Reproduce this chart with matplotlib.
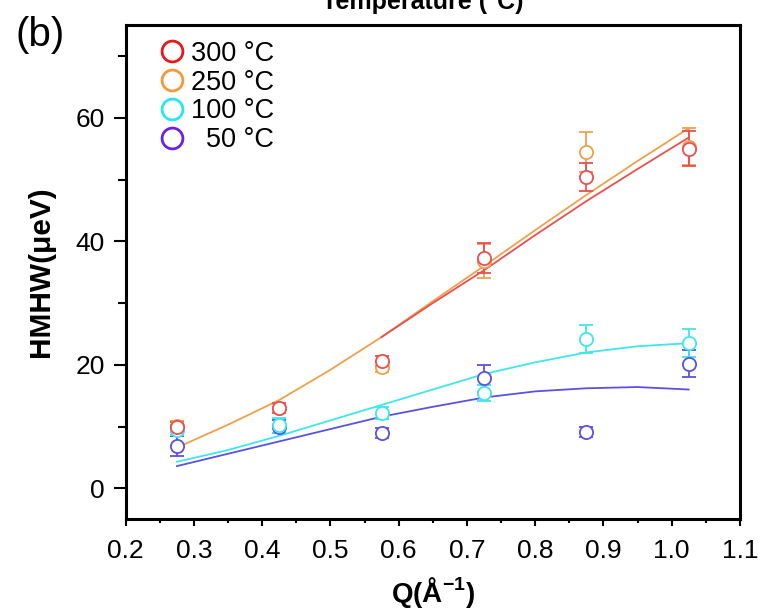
import matplotlib
matplotlib.use("Agg")
import matplotlib.pyplot as plt
from matplotlib.lines import Line2D
from matplotlib.ticker import MultipleLocator

plt.rcParams['font.family'] = ['Liberation Sans', 'DejaVu Sans']

# Momentum transfer values of the measured points
q = [0.275, 0.425, 0.575, 0.725, 0.875, 1.025]

# HMHW (ueV) and uncertainties for each temperature
hw_300 = [10.0, 13.0, 20.6, 37.3, 50.4, 55.0]
err_300 = [0.8, 0.8, 0.8, 2.4, 2.2, 2.8]
hw_250 = [10.1, 13.0, 19.6, 36.8, 54.5, 55.3]
err_250 = [0.8, 0.7, 0.8, 2.8, 3.2, 3.0]
hw_100 = [9.5, 10.2, 12.2, 15.4, 24.2, 23.5]
err_100 = [0.8, 1.2, 1.0, 1.3, 2.3, 2.3]
hw_50 = [6.8, 10.0, 9.0, 17.8, 9.1, 20.2]
err_50 = [1.6, 1.0, 0.8, 2.2, 0.8, 2.2]

# Fitted model curves
q_fit = [0.275, 0.35, 0.425, 0.5, 0.575, 0.65, 0.725, 0.8, 0.875, 0.95, 1.025]
fit_250 = [6.6, 10.3, 14.3, 19.2, 24.5, 30.3, 36.0, 41.8, 47.5, 53.0, 58.3]
q_fit_300 = [0.575, 0.65, 0.725, 0.8, 0.875, 0.95, 1.025]
fit_300 = [24.5, 30.0, 35.3, 41.0, 46.5, 51.7, 56.8]
fit_100 = [4.3, 6.2, 8.5, 11.0, 13.5, 16.0, 18.5, 20.4, 22.0, 23.0, 23.5]
fit_50 = [3.6, 5.6, 7.6, 9.6, 11.6, 13.2, 14.7, 15.7, 16.2, 16.4, 16.0]

labels = ['300 °C', '250 °C', '100 °C', '  50 °C']
pt_colors = ['#e85050', '#f0a04a', '#3ee6ee', '#5a52e0']
key_colors = ['#e81818', '#f39a3a', '#2ae6ee', '#6a22e6']

fig = plt.figure(figsize=(7.62, 6.13), dpi=100)
ax = fig.add_axes([0.165, 0.153, 0.806, 0.806])

# fitted curves
ax.plot(q_fit, fit_250, color=pt_colors[1], lw=1.3, zorder=2)
ax.plot(q_fit, fit_100, color=pt_colors[2], lw=1.3, zorder=2)
ax.plot(q_fit, fit_50, color=pt_colors[3], lw=1.3, zorder=2)
ax.plot(q_fit_300, fit_300, color=pt_colors[0], lw=1.3, zorder=2)

# measured points with error bars
series = [(hw_50, err_50, 3), (hw_100, err_100, 2), (hw_250, err_250, 1), (hw_300, err_300, 0)]
for vals, errs, i in series:
    ax.errorbar(q, vals, yerr=errs, fmt='o', mfc='white', mec=pt_colors[i],
                ecolor=pt_colors[i], ms=9.5, mew=1.3, elinewidth=1.3,
                capsize=5, capthick=1.3, zorder=3)

ax.set_xlim(0.2, 1.1)
ax.set_ylim(-5, 75)
ax.xaxis.set_minor_locator(MultipleLocator(0.05))
ax.yaxis.set_minor_locator(MultipleLocator(10))
ax.set_xticks([0.2, 0.3, 0.4, 0.5, 0.6, 0.7, 0.8, 0.9, 1.0, 1.1])
ax.set_xticklabels(['0.2', '0.3', '0.4', '0.5', '0.6', '0.7', '0.8', '0.9', '1.0', '1.1'])
ax.set_yticks([0, 20, 40, 60])

for s in ax.spines.values():
    s.set_linewidth(2.2)
ax.tick_params(axis='both', which='both', direction='out', top=False, right=False,
               labelsize=19, width=1.5)
ax.tick_params(axis='x', which='major', length=5, pad=9)
ax.tick_params(axis='x', which='minor', length=3)
ax.tick_params(axis='y', which='major', length=9, pad=6)
ax.tick_params(axis='y', which='minor', length=6)

ax.set_xlabel('Q(Å$^{\\mathregular{-1}}$)', fontsize=20, fontweight='bold', labelpad=9)
ax.set_ylabel('HMHW(μeV)', fontsize=21.5, fontweight='bold', labelpad=15)

handles = [Line2D([], [], ls='none', marker='o', ms=15, mfc='none', mec=c, mew=2)
           for c in key_colors]
ax.legend(handles, labels, loc='upper left', bbox_to_anchor=(0.035, 0.99),
          frameon=False, fontsize=19.5, handletextpad=0.2, labelspacing=0.1,
          borderaxespad=0.0, handlelength=1.0)

fig.text(0.02, 0.925, '(b)', fontsize=29)
fig.text(0.555, 0.996, 'Temperature (°C)', fontsize=18, fontweight='bold',
         ha='center', va='center')

fig.savefig('out.png', dpi=100)
